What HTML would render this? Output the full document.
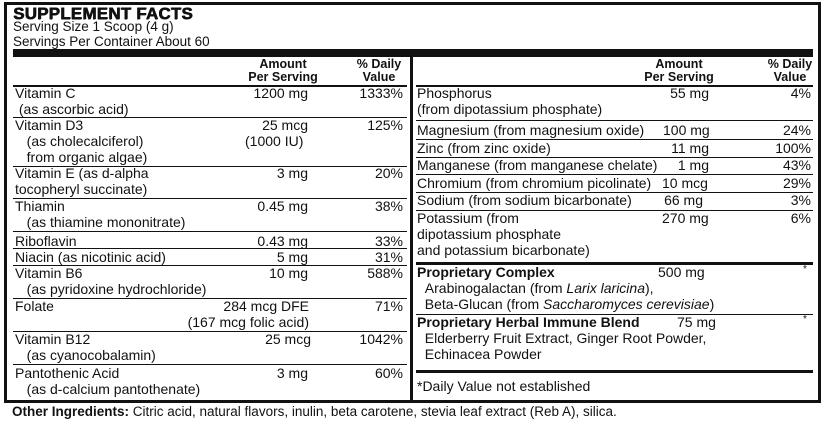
<!DOCTYPE html>
<html><head><meta charset="utf-8"><style>
body{margin:0;width:825px;height:434px;background:#fff;position:relative;overflow:hidden;font-family:"Liberation Sans",Arial,sans-serif;color:#111}
.t{position:absolute;font-size:14px;line-height:16px;white-space:nowrap}
.r{text-align:right}
.h{position:absolute;font-size:12.5px;line-height:13px;font-weight:bold;text-align:center;white-space:nowrap}
.l{position:absolute;background:#111;height:1px}
</style></head><body>
<div style="position:absolute;left:4px;top:2px;width:811px;height:395px;border:3px solid #111"></div>
<div class="t" style="left:13px;top:5px;font-size:17px;font-weight:900;line-height:18px;letter-spacing:0.2px;text-shadow:0.6px 0 #111,0 0.3px #111">SUPPLEMENT FACTS</div>
<div class="t" style="left:13px;top:19px;font-size:13.5px">Serving Size 1 Scoop (4 g)</div>
<div class="t" style="left:13px;top:34px;font-size:13.5px">Servings Per Container About 60</div>
<div class="l" style="left:13px;top:49px;width:800px;height:8px"></div>
<div class="l" style="left:410px;top:57px;width:3px;height:343px"></div>

<div class="h" style="left:233px;width:100px;top:58px">Amount<br>Per Serving</div>
<div class="h" style="left:349px;width:60px;top:58px">% Daily<br>Value</div>
<div class="h" style="left:629px;width:100px;top:58px">Amount<br>Per Serving</div>
<div class="h" style="left:760px;width:60px;top:58px">% Daily<br>Value</div>
<div class="l" style="left:13px;top:85px;width:394px;height:2px"></div>
<div class="l" style="left:416px;top:85px;width:397px;height:2px"></div>

<div class="t" style="left:15px;top:85px">Vitamin C<br>&nbsp;(as ascorbic acid)</div>
<div class="t r" style="right:517px;top:85px">1200 mg</div>
<div class="t r" style="right:422px;top:85px">1333%</div>
<div class="l" style="left:13px;top:117px;width:394px"></div>

<div class="t" style="left:15px;top:117px">Vitamin D3<br>&nbsp;&nbsp;&nbsp;(as cholecalciferol)<br>&nbsp;&nbsp;&nbsp;from organic algae)</div>
<div class="t r" style="right:517px;top:117px">25 mcg</div>
<div class="t" style="left:245px;top:133px">(1000 IU)</div>
<div class="t r" style="right:422px;top:117px">125%</div>
<div class="l" style="left:13px;top:166px;width:394px"></div>

<div class="t" style="left:15px;top:165px">Vitamin E (as d-alpha<br>tocopheryl succinate)</div>
<div class="t r" style="right:517px;top:165px">3 mg</div>
<div class="t r" style="right:422px;top:165px">20%</div>
<div class="l" style="left:13px;top:198px;width:394px"></div>

<div class="t" style="left:15px;top:198px">Thiamin<br>&nbsp;&nbsp;&nbsp;(as thiamine mononitrate)</div>
<div class="t r" style="right:517px;top:198px">0.45 mg</div>
<div class="t r" style="right:422px;top:198px">38%</div>
<div class="l" style="left:13px;top:231px;width:394px"></div>

<div class="t" style="left:15px;top:233px">Riboflavin</div>
<div class="t r" style="right:517px;top:233px">0.43 mg</div>
<div class="t r" style="right:422px;top:233px">33%</div>
<div class="l" style="left:13px;top:248px;width:394px"></div>

<div class="t" style="left:15px;top:249px">Niacin (as nicotinic acid)</div>
<div class="t r" style="right:517px;top:249px">5 mg</div>
<div class="t r" style="right:422px;top:249px">31%</div>
<div class="l" style="left:13px;top:265px;width:394px"></div>

<div class="t" style="left:15px;top:265px">Vitamin B6<br>&nbsp;&nbsp;&nbsp;(as pyridoxine hydrochloride)</div>
<div class="t r" style="right:517px;top:265px">10 mg</div>
<div class="t r" style="right:422px;top:265px">588%</div>
<div class="l" style="left:13px;top:298px;width:394px"></div>

<div class="t" style="left:15px;top:298px">Folate</div>
<div class="t r" style="right:516px;top:298px">284 mcg DFE<br>(167 mcg folic acid)</div>
<div class="t r" style="right:422px;top:298px">71%</div>
<div class="l" style="left:13px;top:331px;width:394px"></div>

<div class="t" style="left:15px;top:331px">Vitamin B12<br>&nbsp;&nbsp;&nbsp;(as cyanocobalamin)</div>
<div class="t r" style="right:514px;top:331px">25 mcg</div>
<div class="t r" style="right:422px;top:331px">1042%</div>
<div class="l" style="left:13px;top:364px;width:394px"></div>

<div class="t" style="left:15px;top:365px">Pantothenic Acid<br>&nbsp;&nbsp;&nbsp;(as d-calcium pantothenate)</div>
<div class="t r" style="right:517px;top:365px">3 mg</div>
<div class="t r" style="right:422px;top:365px">60%</div>

<div class="t" style="left:417px;top:85px">Phosphorus<br>(from dipotassium phosphate)</div>
<div class="t r" style="right:116px;top:85px">55 mg</div>
<div class="t r" style="right:14px;top:85px">4%</div>
<div class="l" style="left:416px;top:120px;width:397px"></div>

<div class="t" style="left:417px;top:122px">Magnesium (from magnesium oxide)</div>
<div class="t" style="left:663px;top:122px">100 mg</div>
<div class="t r" style="right:14px;top:122px">24%</div>
<div class="l" style="left:416px;top:139px;width:397px"></div>

<div class="t" style="left:417px;top:140px">Zinc (from zinc oxide)</div>
<div class="t r" style="right:116px;top:140px">11 mg</div>
<div class="t r" style="right:14px;top:140px">100%</div>
<div class="l" style="left:416px;top:157px;width:397px"></div>

<div class="t" style="left:417px;top:157px">Manganese (from manganese chelate)</div>
<div class="t r" style="right:116px;top:157px">1 mg</div>
<div class="t r" style="right:14px;top:157px">43%</div>
<div class="l" style="left:416px;top:174px;width:397px"></div>

<div class="t" style="left:417px;top:175px">Chromium (from chromium picolinate)</div>
<div class="t" style="left:662px;top:175px">10 mcg</div>
<div class="t r" style="right:14px;top:175px">29%</div>
<div class="l" style="left:416px;top:192px;width:397px"></div>

<div class="t" style="left:417px;top:192px">Sodium (from sodium bicarbonate)</div>
<div class="t r" style="right:122px;top:192px">66 mg</div>
<div class="t r" style="right:14px;top:192px">3%</div>
<div class="l" style="left:416px;top:210px;width:397px"></div>

<div class="t" style="left:417px;top:210px">Potassium (from<br>dipotassium phosphate<br>and potassium bicarbonate)</div>
<div class="t" style="left:662px;top:210px">270 mg</div>
<div class="t r" style="right:14px;top:210px">6%</div>
<div class="l" style="left:416px;top:262px;width:397px;height:3px"></div>

<div class="t" style="left:417px;top:264px"><b>Proprietary Complex</b><br>&nbsp;&nbsp;Arabinogalactan (from <i>Larix laricina</i>),<br>&nbsp;&nbsp;Beta-Glucan (from <i>Saccharomyces cerevisiae</i>)</div>
<div class="t" style="left:658px;top:264px">500 mg</div>
<div class="t" style="left:803px;top:262px;font-size:10px">*</div>
<div class="l" style="left:416px;top:314px;width:397px"></div>

<div class="t" style="left:417px;top:314px"><b>Proprietary Herbal Immune Blend</b><br>&nbsp;&nbsp;Elderberry Fruit Extract, Ginger Root Powder,<br>&nbsp;&nbsp;Echinacea Powder</div>
<div class="t" style="left:677px;top:314px">75 mg</div>
<div class="t" style="left:803px;top:312px;font-size:10px">*</div>
<div class="l" style="left:416px;top:370px;width:397px;height:3px"></div>

<div class="t" style="left:417px;top:378px">*Daily Value not established</div>

<div class="t" style="left:12px;top:404px;font-size:13.5px"><b>Other Ingredients:</b> Citric acid, natural flavors, inulin, beta carotene, stevia leaf extract (Reb A), silica.</div>
</body></html>
